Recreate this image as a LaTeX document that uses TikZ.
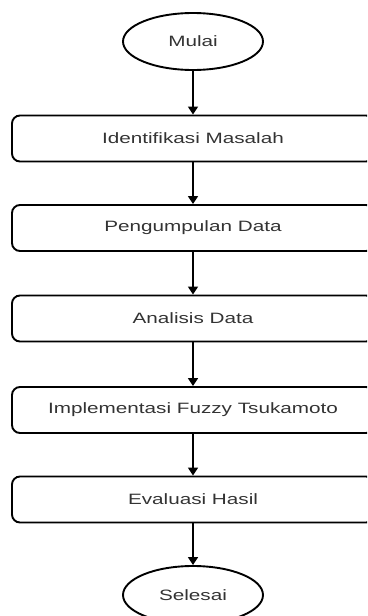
\documentclass[tikz,border=0pt]{standalone}
\usepackage{fontspec}
\newfontfamily\labfont[FakeStretch=1.38]{Liberation Sans}
\usetikzlibrary{shapes.geometric,arrows.meta}
\definecolor{txt}{HTML}{333333}
\tikzset{
  procbox/.style={draw=black, line width=1.9pt, rounded corners=8pt, minimum width=362pt, minimum height=46pt, inner sep=0pt, text=txt, font=\labfont\fontsize{15}{17}\selectfont},
  termnode/.style={draw=black, ellipse, line width=1.9pt, minimum width=140pt, minimum height=57pt, inner sep=0pt, text=txt, font=\labfont\fontsize{15}{17}\selectfont},
  flow/.style={line width=1.5pt, -{Triangle[width=10pt,length=8pt]}}
}
\begin{document}
\begin{tikzpicture}[x=1pt,y=-1pt]
\useasboundingbox (0,0) rectangle (367,616);
\clip (0,0) rectangle (367,616);
\node[termnode] (start) at (193,41.5) {Mulai};
\node[procbox] (b1) at (193,138.5) {Identifikasi Masalah};
\node[procbox] (b2) at (193,228) {Pengumpulan Data};
\node[procbox] (b3) at (193,318.5) {Analisis Data};
\node[procbox] (b4) at (193,410) {Implementasi Fuzzy Tsukamoto};
\node[procbox] (b5) at (193,499.5) {Evaluasi Hasil};
\node[termnode, minimum height=58pt] (end) at (193,595) {Selesai};
\draw[flow] (start) -- (b1);
\draw[flow] (b1) -- (b2);
\draw[flow] (b2) -- (b3);
\draw[flow] (b3) -- (b4);
\draw[flow] (b4) -- (b5);
\draw[flow] (b5) -- (end);
\end{tikzpicture}
\end{document}
